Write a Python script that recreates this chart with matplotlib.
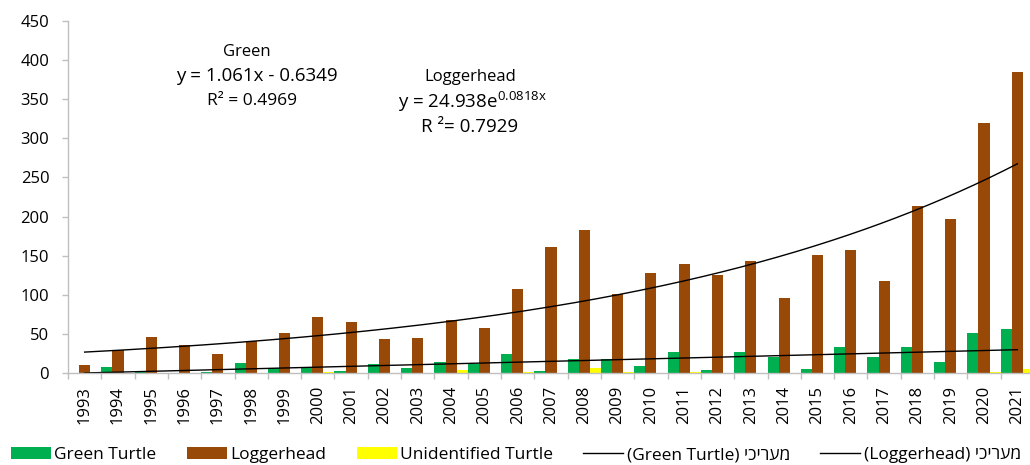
import numpy as np
import matplotlib
matplotlib.use("Agg")
import matplotlib.pyplot as plt

plt.rcParams['font.family'] = ['Open Sans', 'DejaVu Sans']

# data
years = [str(y) for y in range(1993, 2022)]
green_turtle = [0, 8, 2, 0, 2, 13, 7, 7, 3, 12, 7, 14, 12, 25, 3,
                18, 18, 9, 27, 4, 27, 21, 5, 33, 21, 33, 14, 51, 56]
loggerhead = [10, 30, 46, 36, 25, 41, 52, 72, 66, 44, 45, 68, 58, 108, 161,
              183, 101, 128, 139, 125, 143, 96, 151, 157, 118, 213, 197, 320, 385]
unidentified = [2, 0, 0, 0, 0, 0, 0, 2, 0, 0, 0, 4, 0, 2, 0,
                7, 2, 0, 2, 0, 0, 0, 0, 0, 0, 0, 0, 2, 5]

# trendline coefficients as printed on the chart
green_a, green_b = 1.061, -0.6349
logg_a, logg_k = 24.938, 0.0818

heb = "מעריכי"[::-1]  # reversed: matplotlib has no bidi

fig = plt.figure(figsize=(10.3, 4.65), dpi=100)
ax = fig.add_axes([68 / 1030, 91.7 / 465, 966 / 1030, 352.6 / 465])

x = np.arange(len(years))
w = 1 / 3
b1 = ax.bar(x - w, green_turtle, w, color='#00B050', label='Green Turtle')
b2 = ax.bar(x, loggerhead, w, color='#984807', label='Loggerhead')
b3 = ax.bar(x + w, unidentified, w, color='#FFFF00', label='Unidentified Turtle')

# trendlines (excel x = 1..29)
xt = np.linspace(1, len(years), 300)
l1, = ax.plot(xt - 1, green_a * xt + green_b, color='black', lw=1.0,
              label='(Green Turtle) ' + heb)
l2, = ax.plot(xt - 1, logg_a * np.exp(logg_k * xt), color='black', lw=1.0,
              label='(Loggerhead) ' + heb)

ax.set_xlim(-0.5, len(years) - 0.5)
ax.set_ylim(0, 450)
ax.set_yticks(range(0, 451, 50))
ax.set_xticks(x)
ax.set_xticklabels(years, rotation=90)
ax.set_xticks(np.arange(len(years) + 1) - 0.5, minor=True)
ax.tick_params(axis='x', which='major', length=0, pad=9, labelsize=12)
ax.tick_params(axis='x', which='minor', length=4, color='#BFBFBF', width=1)
ax.tick_params(axis='y', length=4.5, color='#BFBFBF', width=1, pad=9, labelsize=12)

for s in ['top', 'right']:
    ax.spines[s].set_visible(False)
for s in ['left', 'bottom']:
    ax.spines[s].set_color('#BFBFBF')
    ax.spines[s].set_linewidth(1)

# trendline labels
def ftxt(px, py, s, **kw):
    fig.text(px / 1030, 1 - py / 465, s, ha='center', va='center', **kw)

ftxt(247, 52, 'Green', fontsize=12)
ftxt(257, 76, 'y = 1.061x - 0.6349', fontsize=13.5)
ftxt(252, 101, 'R² = 0.4969', fontsize=12.5)
ftxt(470, 77, 'Loggerhead', fontsize=12)
ftxt(472, 102, r'y = 24.938e$^{\mathregular{0.0818x}}$', fontsize=13.5)
ftxt(470, 127, 'R ²= 0.7929', fontsize=13.5)

fig.legend(handles=[b1, b2, b3, l1, l2], loc='center left',
           bbox_to_anchor=(4 / 1030, 1 - 455 / 465), ncol=5, frameon=False,
           fontsize=12.5, handlelength=2.3, handleheight=0.7,
           handletextpad=0.2, columnspacing=1.75, borderaxespad=0)

fig.savefig('out.png', dpi=100)
